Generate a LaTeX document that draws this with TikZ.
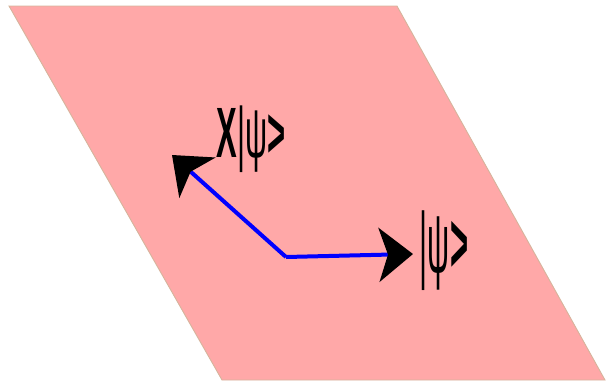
\documentclass[tikz,border=0pt]{standalone}
\usepackage{fontspec}
\setmainfont{Liberation Sans}
\usetikzlibrary{arrows.meta}
\definecolor{planefill}{HTML}{FFA8A8}
\definecolor{planeedge}{HTML}{D6B49C}
\tikzset{
  plane/.style={fill=planefill, draw=planeedge, line width=0.9pt},
  vec/.style={draw=blue, line width=4pt, -{Stealth[length=34pt, width=54pt, inset=9pt, fill=black, color=black]}},
  ketlabel/.style={inner sep=0pt, text=black}
}
\begin{document}
\begin{tikzpicture}[x=1pt,y=-1pt]
\useasboundingbox (0,0) rectangle (606,381);
\coordinate (p1) at (9,6);
\coordinate (p2) at (397,6);
\coordinate (p3) at (605,380);
\coordinate (p4) at (222,380);
\path[plane] (p1) -- (p2) -- (p3) -- (p4) -- cycle;
\coordinate (o) at (286,257);
\coordinate (a) at (413,254);
\coordinate (b) at (172,155);
\draw[vec] (o) -- (a);
\draw[vec] (o) -- (b);
\node[ketlabel] (psi) at (444,251) {\scalebox{1}[2.75]{\fontsize{31}{31}\selectfont |ψ{\bfseries >}}};
\node[ketlabel] (xpsi) at (251,139) {\scalebox{1}[2.3]{\fontsize{31}{31}\selectfont {\bfseries X}|ψ{\bfseries >}}};
\end{tikzpicture}
\end{document}
